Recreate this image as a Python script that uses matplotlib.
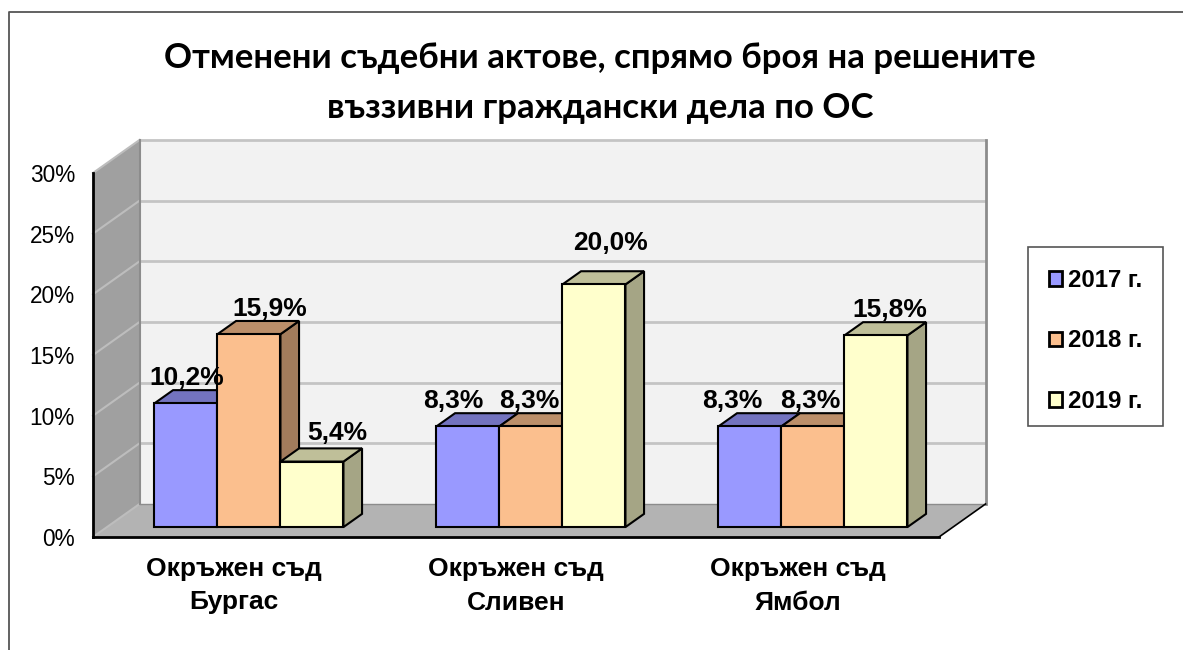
import matplotlib
matplotlib.use("Agg")
import matplotlib.pyplot as plt
from matplotlib.patches import Polygon, Patch, Rectangle
from matplotlib.ticker import FuncFormatter

categories = ["Окръжен съд\nБургас", "Окръжен съд\nСливен", "Окръжен съд\nЯмбол"]
series_names = ["2017 г.", "2018 г.", "2019 г."]
values_2017 = [10.2, 8.3, 8.3]
values_2018 = [15.9, 8.3, 8.3]
values_2019 = [5.4, 20.0, 15.8]
labels_2017 = ["10,2%", "8,3%", "8,3%"]
labels_2018 = ["15,9%", "8,3%", "8,3%"]
labels_2019 = ["5,4%", "20,0%", "15,8%"]
y_ticks = [0, 5, 10, 15, 20, 25, 30]
title = "Отменени съдебни актове, спрямо броя на решените\nвъззивни граждански дела по ОС"

# layout (pixels)
W, H = 1183, 650
AX_L, AX_R, AX_T, AX_B = 93, 939, 173, 537
DEPTH_X = 46.5 / (AX_R - AX_L) * 3
DEPTH_Y = 33 / (AX_B - AX_T) * 30
BAR_W = 0.2234
BAR_SHIFT = 1 / (AX_R - AX_L) * 3
D0, D1 = 0.30, 0.70
INK = "#000000"
# label nudges in pixels (series, group) -> (dx, dy up)
NUDGE = {
    (0, 0): (-9, 0), (1, 0): (11, 0), (2, 0): (16, 3),
    (0, 1): (-24, 0), (1, 1): (-11, 0), (2, 1): (7, 16),
    (0, 2): (-27, 0), (1, 2): (-12, 0), (2, 2): (5, 0),
}

faces = {
    0: ("#9999FF", "#7373BF", "#6363A6"),
    1: ("#FBBF8E", "#BC8F6A", "#A37C5C"),
    2: ("#FFFFCC", "#BFBF99", "#A5A585"),
}

plt.rcParams["font.family"] = ["Liberation Sans", "DejaVu Sans"]
fig = plt.figure(figsize=(W / 100, H / 100), dpi=100, facecolor="white")
ax = fig.add_axes([AX_L / W, 1 - AX_B / H, (AX_R - AX_L) / W, (AX_B - AX_T) / H])
ax.set_xlim(0, 3)
ax.set_ylim(0, 30)
ax.patch.set_visible(False)
for s in ("top", "right"):
    ax.spines[s].set_visible(False)
for s in ("left", "bottom"):
    ax.spines[s].set_linewidth(2)
    ax.spines[s].set_color(INK)
    ax.spines[s].set_zorder(20)


def proj(x, y, d):
    return (x + d * DEPTH_X, y + d * DEPTH_Y)


def poly(pts, fc, ec="none", lw=0.0, z=1):
    ax.add_patch(Polygon(pts, closed=True, facecolor=fc, edgecolor=ec, linewidth=lw,
                         zorder=z, clip_on=False, joinstyle="miter"))


# walls and floor
poly([proj(0, 0, 1), proj(3, 0, 1), proj(3, 30, 1), proj(0, 30, 1)], "#F2F2F2", z=1)
poly([proj(0, 0, 0), proj(0, 0, 1), proj(0, 30, 1), proj(0, 30, 0)], "#A0A0A0", z=1)
poly([proj(0, 0, 0), proj(3, 0, 0), proj(3, 0, 1), proj(0, 0, 1)], "#B3B3B3", z=1)
for t in y_ticks:
    if t > 0:
        xs, ys = zip(proj(0, t, 1), proj(3, t, 1))
        ax.plot(xs, ys, color="#C4C4C4", lw=2, zorder=2, clip_on=False, solid_capstyle="butt")
    xs, ys = zip(proj(0, t, 0), proj(0, t, 1))
    ax.plot(xs, ys, color="#BDBDBD", lw=1.5, zorder=2, clip_on=False)
xs, ys = zip(proj(0, 0, 1), proj(0, 30, 1))
ax.plot(xs, ys, color="#8C8C8C", lw=1.5, zorder=3, clip_on=False)
xs, ys = zip(proj(3, 0, 1), proj(3, 30, 1))
ax.plot(xs, ys, color="#8C8C8C", lw=2, zorder=3, clip_on=False)
xs, ys = zip(proj(0, 0, 1), proj(3, 0, 1))
ax.plot(xs, ys, color="#8C8C8C", lw=1, zorder=3, clip_on=False)
xs, ys = zip(proj(3, 0, 0), proj(3, 0, 1))
ax.plot(xs, ys, color="#000000", lw=1.2, zorder=3, clip_on=False)

# bars
all_values = [values_2017, values_2018, values_2019]
all_labels = [labels_2017, labels_2018, labels_2019]
z = 5
for g in range(len(categories)):
    for s, vals in enumerate(all_values):
        x0 = g + 0.5 - 1.5 * BAR_W + s * BAR_W + BAR_SHIFT
        x1 = x0 + BAR_W
        v = vals[g]
        front, top, side = faces[s]
        lw = 1.5
        poly([proj(x1, 0, D0), proj(x1, 0, D1), proj(x1, v, D1), proj(x1, v, D0)],
             side, INK, lw, z)
        poly([proj(x0, v, D0), proj(x1, v, D0), proj(x1, v, D1), proj(x0, v, D1)],
             top, INK, lw, z)
        poly([proj(x0, 0, D0), proj(x1, 0, D0), proj(x1, v, D0), proj(x0, v, D0)],
             front, INK, lw, z + 0.5)
        z += 1

# value labels
for g in range(len(categories)):
    for s, vals in enumerate(all_values):
        x = g + 0.5 - 1.5 * BAR_W + s * BAR_W + BAR_W / 2 + BAR_SHIFT
        px, py = proj(x, vals[g], 0.5)
        dx, dy = NUDGE[(s, g)]
        ax.annotate(all_labels[s][g], (px, py),
                    xytext=(dx * 0.72, 5 + dy * 0.72), textcoords="offset points",
                    ha="center", va="bottom", fontsize=19, fontweight="bold",
                    color=INK, zorder=50, annotation_clip=False)

ax.set_yticks(y_ticks)
ax.yaxis.set_major_formatter(FuncFormatter(lambda v, _: f"{v:.0f}%"))
ax.tick_params(axis="y", length=0, pad=13, labelsize=16.3, colors=INK)
ax.set_xticks([g + 0.5 for g in range(len(categories))])
ax.set_xticklabels(categories, fontsize=19, fontweight="bold", linespacing=1.5)
ax.tick_params(axis="x", length=0, pad=14.4, colors=INK)

fig.text(600 / W, 1 - 83 / H, title, ha="center", va="center", fontsize=25,
         fontweight="bold", family=["Lato", "Open Sans", "DejaVu Sans"], linespacing=1.7, color=INK)

# frame
fig.add_artist(plt.Line2D([8.5 / W, 8.5 / W, 1], [0, 1 - 12 / H, 1 - 12 / H],
                          color="#555555", lw=1.3, transform=fig.transFigure))

# legend
fig.add_artist(Rectangle((1028 / W, 1 - 426 / H), 135 / W, 179 / H, transform=fig.transFigure,
                         facecolor="white", edgecolor="#555555", linewidth=1.2))
handles = [Patch(facecolor=faces[i][0], edgecolor=INK, linewidth=2, label=series_names[i]) for i in range(3)]
leg = fig.legend(handles=handles, loc="upper left",
                 bbox_to_anchor=(1049 / W, 1 - 269 / H), borderaxespad=0,
                 prop={"weight": "bold", "size": 17.3, "family": "Liberation Sans"},
                 handlelength=0.54, handleheight=0.54, handletextpad=0.25,
                 labelspacing=1.56, borderpad=0, frameon=False)

fig.savefig("out.png", dpi=100, facecolor="white")
